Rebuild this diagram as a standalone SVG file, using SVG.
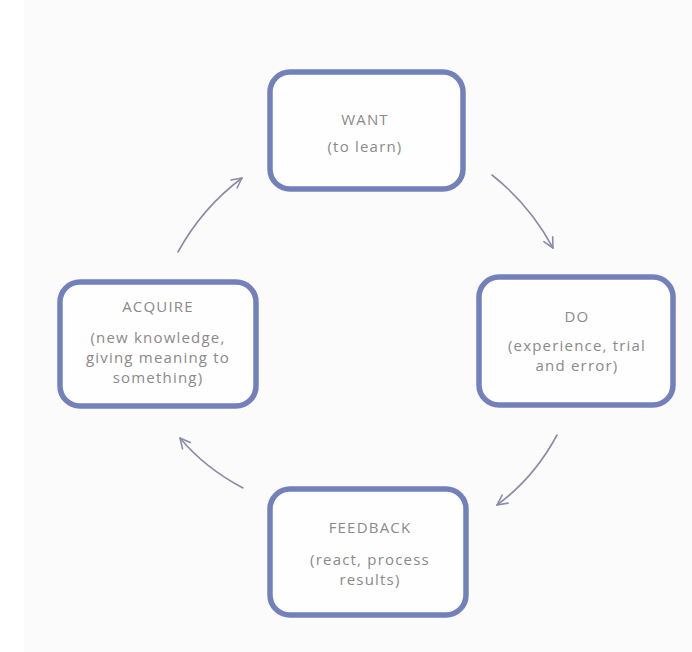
<svg xmlns="http://www.w3.org/2000/svg" width="692" height="652" viewBox="0 0 692 652">
<defs>
<style>
.box{fill:#fefefe;stroke:#7381ba;stroke-width:5.5}
.t{font-family:"Open Sans",Lato,sans-serif;font-size:15px;letter-spacing:1.2px;fill:#8a8a8a;text-anchor:middle}
.c{fill:none;stroke:#8d8ca8;stroke-width:1.6;stroke-linecap:round}
</style>
<marker id="ah" viewBox="0 0 12 12" refX="11" refY="6" markerWidth="12" markerHeight="12" markerUnits="userSpaceOnUse" orient="auto">
<path d="M1,1 L11,6 L1,11" fill="none" stroke="#8d8ca8" stroke-width="1.6" stroke-linecap="round" stroke-linejoin="round"/>
</marker>
</defs>
<rect width="692" height="652" fill="#ffffff"/>
<rect x="24" y="0" width="668" height="652" fill="#fbfbfb"/>
<g id="want">
<rect class="box" x="270" y="72" width="193" height="117" rx="20"/>
<text class="t" x="365" y="125">WANT</text>
<text class="t" x="365" y="152">(to learn)</text>
</g>
<g id="do">
<rect class="box" x="479" y="277" width="194" height="128" rx="20"/>
<text class="t" x="577" y="322">DO</text>
<text class="t" x="577" y="351">(experience, trial</text>
<text class="t" x="577" y="371">and error)</text>
</g>
<g id="acquire">
<rect class="box" x="60" y="282" width="196" height="124" rx="20"/>
<text class="t" x="158" y="312">ACQUIRE</text>
<text class="t" x="158" y="343">(new knowledge,</text>
<text class="t" x="158" y="363">giving meaning to</text>
<text class="t" x="158" y="383">something)</text>
</g>
<g id="feedback">
<rect class="box" x="270" y="489" width="196" height="126" rx="20"/>
<text class="t" x="370" y="533">FEEDBACK</text>
<text class="t" x="370" y="565">(react, process</text>
<text class="t" x="370" y="585">results)</text>
</g>
<g id="connectors">
<path class="c" d="M178,252 Q202,208 242,178" marker-end="url(#ah)"/>
<path class="c" d="M492,175 Q530,205 553,248" marker-end="url(#ah)"/>
<path class="c" d="M557,435 Q534,478 497,505" marker-end="url(#ah)"/>
<path class="c" d="M243,488 Q205,468 180,438" marker-end="url(#ah)"/>
</g>
</svg>
